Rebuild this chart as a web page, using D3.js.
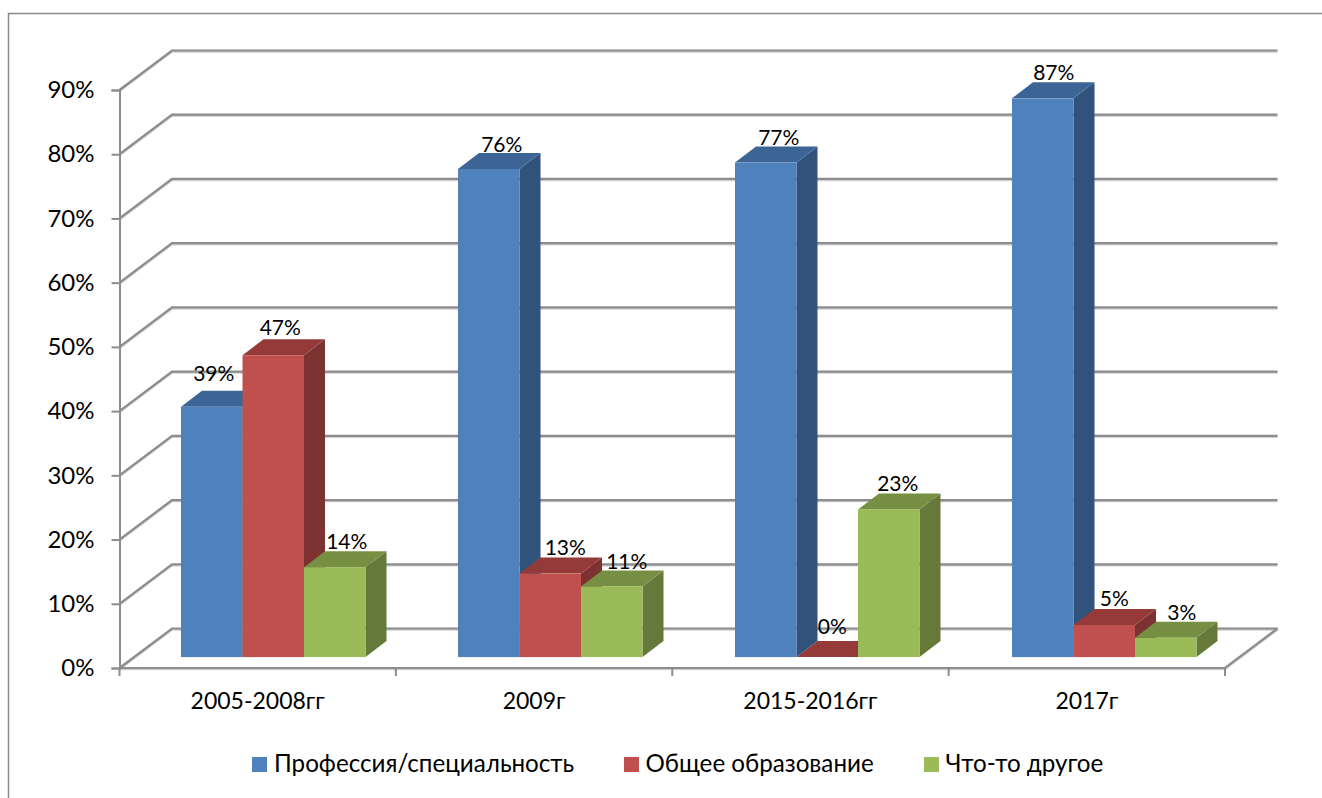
<!DOCTYPE html>
<html>
<head>
<meta charset="utf-8">
<script src="https://d3js.org/d3.v7.min.js"></script>
<style>
body { margin: 0; background: #fff; }
text { font-family: "Lato", "Open Sans", sans-serif; fill: #000; }
.axis text { font-size: 23px; }
.yaxis text { font-size: 24px; }
.label { font-size: 21px; }
.legend text { font-size: 24.2px; }
</style>
</head>
<body>
<script>
var categories = ["2005-2008гг", "2009г", "2015-2016гг", "2017г"];
var seriesNames = ["Профессия/специальность", "Общее образование", "Что-то другое"];
var profession = [39, 76, 77, 87];
var generalEdu = [47, 13, 0, 5];
var other = [14, 11, 23, 3];
var yTicks = [0, 10, 20, 30, 40, 50, 60, 70, 80, 90];

var seriesValues = [profession, generalEdu, other];
var colors = [
    {front: "#4f81bd", top: "#3c6595", side: "#31527b"},
    {front: "#c0504d", top: "#943b39", side: "#7c3231"},
    {front: "#9bbb59", top: "#778f42", side: "#657a3a"}
];

var width = 1322, height = 798;
var left = 119.5, right = 1225, floorY = 668, topY = 90;
var wallDx = 52.5, wallDy = -39.5;   // back wall offset
var barDx = 21, barDy = -16;         // bar depth
var barShiftX = 61.5, barShiftY = -10.9, barWidth = 61.5;

// hand nudges for the data labels: [series][category] -> [dx, dy]
var labelNudge = [
    [[-9, -6], [2, 3], [2, 2], [0, 1]],
    [[-4, -1], [4, 1], [-6, -3], [-1, 1]],
    [[1, 1], [4, 2], [-2, 1], [5, 2]]
];

var yScale = d3.scaleLinear().domain([0, 90]).range([floorY, topY]);
var xScale = d3.scaleBand().domain(categories).range([left, right]);
// the bar groups step a little wider than the axis ticks
var barBand = d3.scaleBand().domain(categories).range([left, left + 4 * 277]);

var svg = d3.select("body").append("svg")
    .attr("width", width)
    .attr("height", height)
    .style("display", "block");

// outer frame, cut off by the picture on the right and at the bottom
svg.append("path")
    .attr("d", "M8.5," + height + "V13.5H" + width)
    .attr("fill", "none")
    .attr("stroke", "#8a8a8a")
    .attr("stroke-width", 1.5);

// back wall and side wall lines
var gridPath = function(v) {
    var y = yScale(v);
    var d = "M" + left + "," + y + "L" + (left + wallDx) + "," + (y + wallDy) + "H" + (right + wallDx);
    return d;
};
var grid = svg.append("g").attr("fill", "none");
grid.selectAll(".shade").data(yTicks).enter().append("path")
    .attr("class", "shade")
    .attr("d", gridPath)
    .attr("transform", "translate(0,1)")
    .attr("stroke", "#cfcfcf")
    .attr("stroke-width", 2.5);
grid.selectAll(".line").data(yTicks).enter().append("path")
    .attr("class", "line")
    .attr("d", gridPath)
    .attr("stroke", "#8c8c8c")
    .attr("stroke-width", 2.2);

// floor edges
var floor = "M" + left + "," + floorY + "H" + right + "L" + (right + wallDx) + "," + (floorY + wallDy);
svg.append("path").attr("d", floor).attr("transform", "translate(0,1)")
    .attr("fill", "none").attr("stroke", "#cfcfcf").attr("stroke-width", 2.5);
svg.append("path").attr("d", floor)
    .attr("fill", "none").attr("stroke", "#8c8c8c").attr("stroke-width", 2.2);

// axes
var yAxis = d3.axisLeft(yScale)
    .tickValues(yTicks)
    .tickSize(8)
    .tickPadding(17)
    .tickFormat(function(d) { return d + "%"; });
var yG = svg.append("g").attr("class", "axis yaxis")
    .attr("transform", "translate(" + left + ",0)")
    .call(yAxis);
yG.select(".domain").attr("stroke", "#8c8c8c").attr("stroke-width", 2);
yG.selectAll("line").attr("stroke", "#8c8c8c").attr("stroke-width", 2);

var xAxis = d3.axisBottom(xScale).tickSize(0).tickPadding(25);
var xG = svg.append("g").attr("class", "axis")
    .attr("transform", "translate(0," + floorY + ")")
    .call(xAxis);
xG.select(".domain").remove();

var edges = categories.map(function(c) { return xScale(c); }).concat([right]);
svg.append("g").selectAll("line").data(edges).enter().append("line")
    .attr("x1", function(d) { return d; })
    .attr("x2", function(d) { return d; })
    .attr("y1", floorY)
    .attr("y2", floorY + 8)
    .attr("stroke", "#8c8c8c")
    .attr("stroke-width", 2);

// bars, left to right so each one covers the side of the previous
var barX = function(cat, s) { return barBand(cat) + barShiftX + s * barWidth; };
var barY = function(v) { return yScale(v) + barShiftY; };
var base = barY(0);

categories.forEach(function(cat, c) {
    seriesNames.forEach(function(name, s) {
        var v = seriesValues[s][c];
        var x = barX(cat, s), y = barY(v), w = barWidth, col = colors[s];
        var g = svg.append("g").attr("class", "bar");
        g.append("path")
            .attr("d", "M" + (x + w) + "," + y + "l" + barDx + "," + barDy + "V" + (base + barDy) + "l" + (-barDx) + "," + (-barDy) + "Z")
            .attr("fill", col.side);
        g.append("path")
            .attr("d", "M" + x + "," + y + "l" + barDx + "," + barDy + "h" + w + "l" + (-barDx) + "," + (-barDy) + "Z")
            .attr("fill", col.top);
        g.append("rect")
            .attr("x", x)
            .attr("y", y)
            .attr("width", w)
            .attr("height", base - y)
            .attr("fill", col.front);
    });
});

// data labels on top of everything
categories.forEach(function(cat, c) {
    seriesNames.forEach(function(name, s) {
        var v = seriesValues[s][c];
        var n = labelNudge[s][c];
        svg.append("text")
            .attr("class", "label")
            .attr("x", barX(cat, s) + barWidth / 2 + 11 + n[0])
            .attr("y", barY(v) - 27 + n[1])
            .attr("dy", "0.35em")
            .attr("text-anchor", "middle")
            .text(v + "%");
    });
});

// legend
var legendX = [252, 623.5, 923.5];
var legend = svg.append("g").attr("class", "legend");
seriesNames.forEach(function(name, s) {
    legend.append("rect")
        .attr("x", Math.ceil(legendX[s]))
        .attr("y", 757)
        .attr("width", 15)
        .attr("height", 15)
        .attr("fill", colors[s].front);
    legend.append("text")
        .attr("x", legendX[s] + 22)
        .attr("y", 772)
        .text(name);
});
</script>
</body>
</html>
